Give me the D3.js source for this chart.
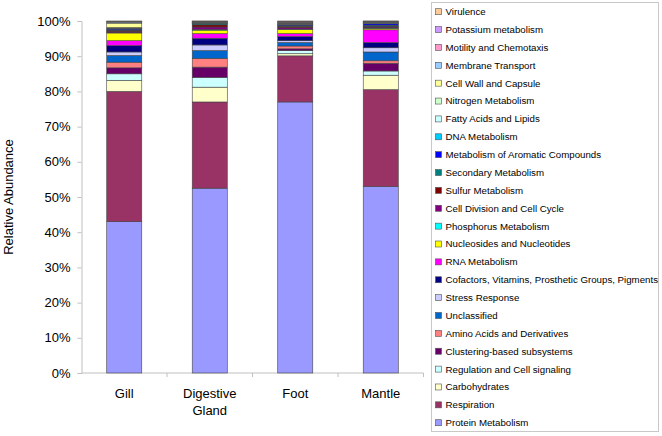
<!DOCTYPE html>
<html><head><meta charset="utf-8">
<script src="https://cdn.jsdelivr.net/npm/d3@7"></script>
<style>body{margin:0;background:#fff}svg{display:block;font-family:"Liberation Sans",Arial,sans-serif}</style>
</head><body><svg id="c" width="662" height="436"></svg>
<script>
const samples = ["Gill", "Digestive Gland", "Foot", "Mantle"];
// bottom-to-top stacking order
const subsystems = ["Protein Metabolism","Respiration","Carbohydrates","Regulation and Cell signaling","Clustering-based subsystems","Amino Acids and Derivatives","Unclassified","Stress Response","Cofactors, Vitamins, Prosthetic Groups, Pigments","RNA Metabolism","Nucleosides and Nucleotides","Phosphorus Metabolism","Cell Division and Cell Cycle","Sulfur Metabolism","Secondary Metabolism","Metabolism of Aromatic Compounds","DNA Metabolism","Fatty Acids and Lipids","Nitrogen Metabolism","Cell Wall and Capsule","Membrane Transport","Motility and Chemotaxis","Potassium metabolism","Virulence"];
const colors = ["#9999FF","#993366","#FFFFCC","#CCFFFF","#660066","#FF8080","#0066CC","#CCCCFF","#000080","#FF00FF","#FFFF00","#00FFFF","#800080","#800000","#008080","#0000FF","#00CCFF","#CCFFFF","#CCFFCC","#FFFF99","#99CCFF","#FF99CC","#CC99FF","#FFCC99"];
const gill = [43, 37, 3.1, 1.9, 1.7, 1.6, 1.9, 1.0, 1.8, 1.4, 2.2, 0.1, 0.3, 0.3, 0.1, 0.3, 0.1, 0.2, 0.1, 1.3, 0.3, 0.1, 0.1, 0.1];
const digestiveGland = [52.5, 24.5, 4.2, 2.8, 2.9, 2.5, 2.2, 1.6, 1.9, 1.3, 1.0, 0.2, 0.7, 0.6, 0.3, 0.1, 0.1, 0.1, 0.1, 0.1, 0.1, 0.1, 0.05, 0.05];
const foot = [77, 13.1, 0.6, 0.9, 0.5, 0.8, 1.0, 0.5, 1.2, 0.8, 1.2, 0.1, 0.4, 0.4, 0.2, 0.2, 0.1, 0.1, 0.1, 0.2, 0.2, 0.2, 0.1, 0.1];
const mantle = [53, 27.5, 4.1, 1.2, 2.2, 0.7, 2.5, 1.2, 1.5, 3.6, 0.4, 0.1, 0.3, 0.2, 0.3, 0.4, 0.1, 0.1, 0.1, 0.1, 0.2, 0.1, 0.05, 0.05];
const yTicks = [0, 0.1, 0.2, 0.3, 0.4, 0.5, 0.6, 0.7, 0.8, 0.9, 1.0];

const sampleValues = [gill, digestiveGland, foot, mantle];
const rows = samples.map((s, i) => {
  const r = {sample: s};
  subsystems.forEach((k, j) => r[k] = sampleValues[i][j]);
  return r;
});

const svg = d3.select("#c");
const m = {l: 81.5, r: 423.5, t: 21, b: 373};
const x = d3.scaleBand().domain(samples).range([m.l, m.r]).paddingInner(0.59).paddingOuter(0.295);
const y = d3.scaleLinear().domain([0, 1]).range([m.b, m.t]);
const color = d3.scaleOrdinal().domain(subsystems).range(colors);

const stack = d3.stack().keys(subsystems).offset(d3.stackOffsetExpand);
const series = stack(rows);

// axes
const yAxis = svg.append("g").attr("transform", `translate(${m.l},0)`)
  .call(d3.axisLeft(y).tickValues(yTicks).tickFormat(d3.format(".0%")).tickSize(4).tickPadding(7));
yAxis.select(".domain").attr("stroke", "#c0c0c0");
yAxis.selectAll(".tick line").attr("stroke", "#c0c0c0");
yAxis.selectAll("text").attr("font-size", 13).attr("fill", "#000").attr("font-family", "Liberation Sans, Arial, sans-serif");

const xAxis = svg.append("g").attr("transform", `translate(0,${m.b})`);
xAxis.append("line").attr("x1", m.l).attr("x2", m.r).attr("stroke", "#c0c0c0");
const bounds = samples.map((s, i) => m.l + (i + 1) * ((m.r - m.l) / samples.length));
xAxis.selectAll(".tk").data(bounds).join("line")
  .attr("x1", d => d).attr("x2", d => d).attr("y1", 0).attr("y2", 4).attr("stroke", "#c0c0c0");
const labels = xAxis.selectAll(".lab").data(samples).join("text")
  .attr("text-anchor", "middle").attr("font-size", 13).attr("fill", "#000")
  .attr("x", d => x(d) + x.bandwidth() / 2).attr("y", 25);
labels.each(function(d) {
  const parts = d.split(" ");
  const t = d3.select(this);
  parts.forEach((p, i) => t.append("tspan").attr("x", x(d) + x.bandwidth() / 2).attr("dy", i ? 17 : 0).text(p));
});

// bars
svg.append("g").selectAll("g").data(series).join("g")
  .attr("fill", d => color(d.key))
  .selectAll("rect").data(d => d).join("rect")
  .attr("x", d => x(d.data.sample))
  .attr("width", x.bandwidth())
  .attr("y", d => y(d[1]))
  .attr("height", d => y(d[0]) - y(d[1]))
  .attr("stroke", "#444").attr("stroke-width", 0.6);

// y label
svg.append("text").attr("transform", "translate(13,197) rotate(-90)")
  .attr("text-anchor", "middle").attr("font-size", 13).attr("fill", "#000").text("Relative Abundance");

// legend
const lg = svg.append("g");
lg.append("rect").attr("x", 431.5).attr("y", 2.5).attr("width", 227).attr("height", 429)
  .attr("fill", "#fff").attr("stroke", "#c8c8c8");
const legendItems = subsystems.slice().reverse();
const li = lg.selectAll(".li").data(legendItems).join("g")
  .attr("transform", (d, i) => `translate(435.5,${11.7 + i * 17.87})`);
li.append("rect").attr("x", 0).attr("y", -3).attr("width", 6).attr("height", 6)
  .attr("fill", d => color(d)).attr("stroke", "#505050").attr("stroke-width", 0.6);
li.append("text").attr("x", 10).attr("y", 0).attr("dy", "0.35em")
  .attr("font-size", 9.7).attr("fill", "#000").text(d => d);
</script></body></html>
